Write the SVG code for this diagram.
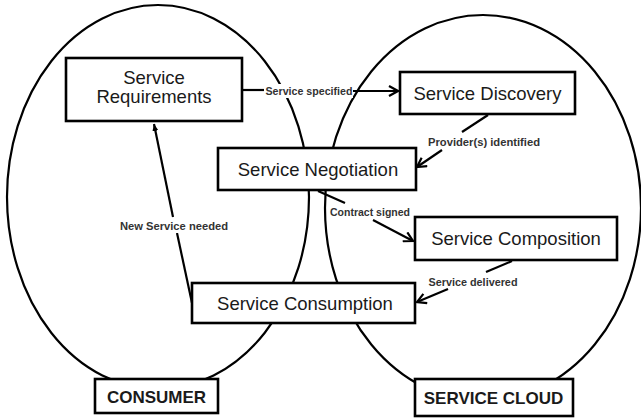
<svg xmlns="http://www.w3.org/2000/svg" width="641" height="419" viewBox="0 0 641 419">
<style>
.bg{fill:#ffffff}
.ell{fill:none;stroke:#000;stroke-width:2.2}
.box{fill:#fff;stroke:#000;stroke-width:2.6}
.t{font-family:"Liberation Sans",Arial,sans-serif;font-size:18.5px;fill:#1a1a1a;text-anchor:middle}
.tb{font-family:"Liberation Sans",Arial,sans-serif;font-size:17px;font-weight:bold;fill:#1a1a1a;text-anchor:middle}
.lbl{font-family:"Liberation Sans",Arial,sans-serif;font-size:10.5px;font-weight:bold;fill:#333;text-anchor:middle}
.lblbg{fill:#fff}
.c{fill:none;stroke:#000;stroke-width:2.2}
</style>
<defs>
<marker id="arr" viewBox="0 0 12 12" markerWidth="12" markerHeight="12" refX="10" refY="6" orient="auto" markerUnits="userSpaceOnUse">
<path d="M1,1 L10,6 L1,11" fill="none" stroke="#000" stroke-width="2.2"/>
</marker>
<marker id="arrs" viewBox="0 0 8 8" markerWidth="8" markerHeight="8" refX="7" refY="4" orient="auto" markerUnits="userSpaceOnUse">
<path d="M0,1 L7,4 L0,7 Z" fill="#000"/>
</marker>
</defs>
<rect class="bg" x="0" y="0" width="641" height="419"/>
<g id="consumer-region">
<ellipse class="ell" cx="158" cy="197" rx="151" ry="192"/>
</g>
<g id="cloud-region">
<ellipse class="ell" cx="483" cy="208" rx="158" ry="193"/>
</g>
<g id="connectors">
<line class="c" x1="242" y1="90" x2="264" y2="90"/>
<line class="c" x1="353" y1="91" x2="398" y2="91" marker-end="url(#arr)"/>
<line class="c" x1="488" y1="115" x2="462" y2="132"/>
<line class="c" x1="442" y1="150" x2="417" y2="167" marker-end="url(#arr)"/>
<line class="c" x1="318" y1="191" x2="345" y2="203"/>
<line class="c" x1="373" y1="220" x2="413" y2="241" marker-end="url(#arr)"/>
<line class="c" x1="512" y1="261" x2="486" y2="272"/>
<line class="c" x1="448" y1="289" x2="417" y2="302" marker-end="url(#arr)"/>
<line class="c" x1="192" y1="303" x2="177" y2="233"/>
<line class="c" x1="173" y1="217" x2="154" y2="124" marker-end="url(#arrs)"/>
<rect class="lblbg" x="265" y="84" width="88" height="14"/>
<text class="lbl" x="309" y="95" textLength="87" lengthAdjust="spacingAndGlyphs">Service specified</text>
<text class="lbl" x="484" y="146" textLength="112" lengthAdjust="spacingAndGlyphs">Provider(s) identified</text>
<text class="lbl" x="370" y="216" textLength="80" lengthAdjust="spacingAndGlyphs">Contract signed</text>
<text class="lbl" x="473" y="286" textLength="89" lengthAdjust="spacingAndGlyphs">Service delivered</text>
<rect class="lblbg" x="119" y="219" width="110" height="14"/>
<text class="lbl" x="174" y="230" textLength="108" lengthAdjust="spacingAndGlyphs">New Service needed</text>
</g>
<g id="service-requirements">
<rect class="box" x="66" y="58" width="176" height="63"/>
<text class="t" x="154" y="84">Service</text>
<text class="t" x="154" y="103">Requirements</text>
</g>
<g id="service-discovery">
<rect class="box" x="400" y="72" width="175" height="42"/>
<text class="t" x="487.5" y="99.5">Service Discovery</text>
</g>
<g id="service-negotiation">
<rect class="box" x="218" y="148" width="198" height="42"/>
<text class="t" x="318" y="175.5">Service Negotiation</text>
</g>
<g id="service-composition">
<rect class="box" x="415" y="217" width="202" height="43"/>
<text class="t" x="516" y="245">Service Composition</text>
</g>
<g id="service-consumption">
<rect class="box" x="192" y="283" width="223" height="40"/>
<text class="t" x="305" y="309.5">Service Consumption</text>
</g>
<g id="consumer">
<rect class="box" x="95" y="379" width="123" height="34"/>
<text class="tb" x="156.5" y="402.5">CONSUMER</text>
</g>
<g id="service-cloud">
<rect class="box" x="415" y="379" width="158" height="37"/>
<text class="tb" x="493.5" y="404" font-size="16.5">SERVICE CLOUD</text>
</g>
</svg>
